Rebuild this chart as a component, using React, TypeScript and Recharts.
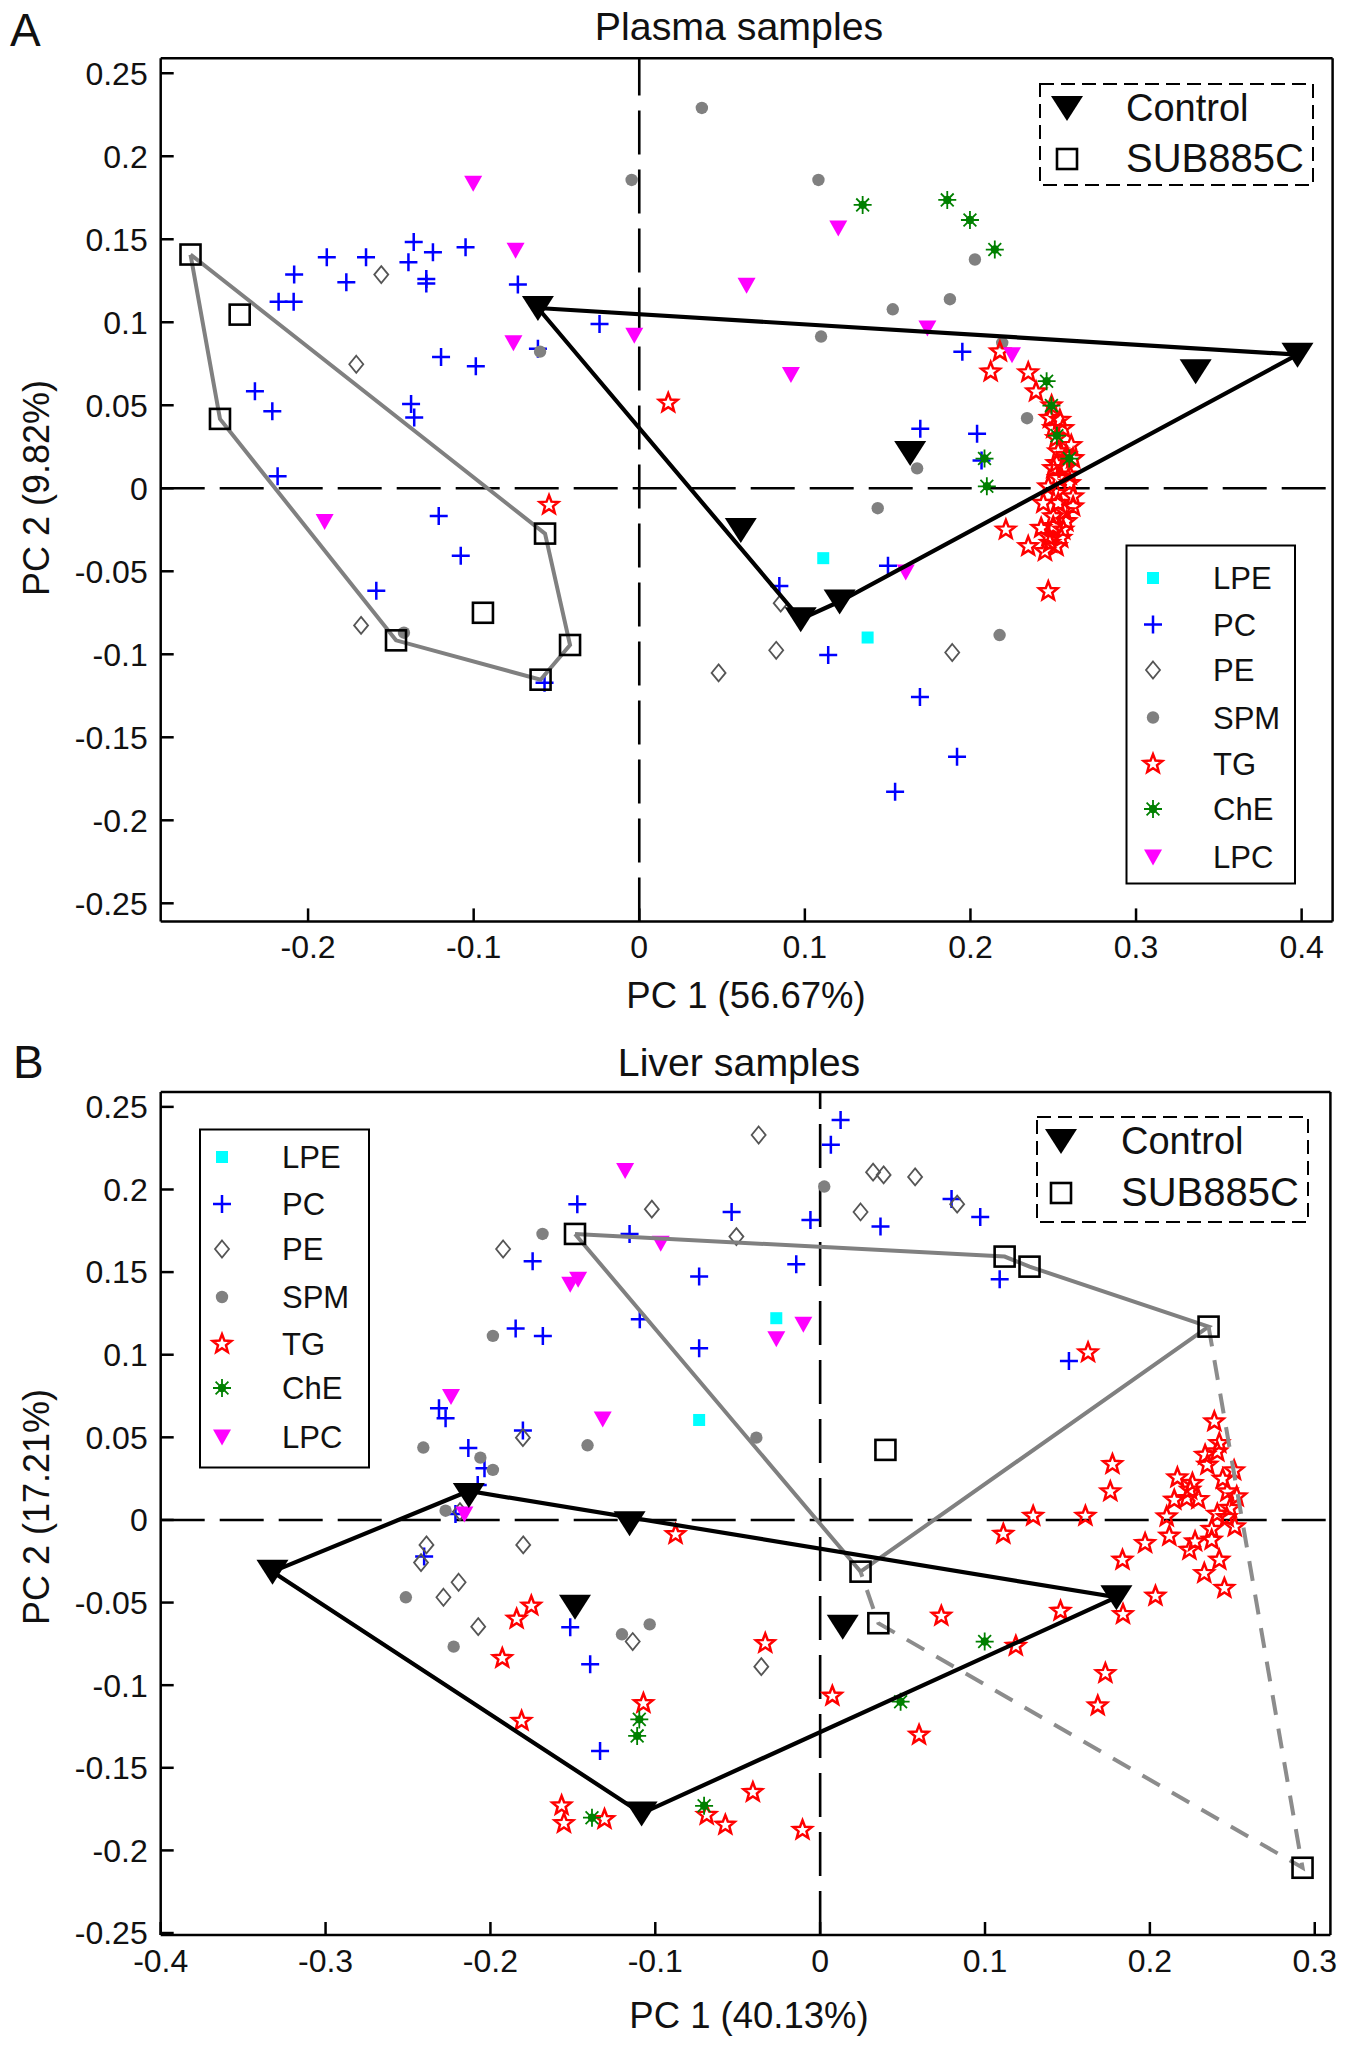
import { ScatterChart, Scatter, XAxis, YAxis, ReferenceLine } from 'recharts'

type Pt = [number, number]

// ---- Plasma (panel A) ----
const plasmaLPE: Pt[] = [[0.1111, -0.0421], [0.1379, -0.0899]]
const plasmaPC: Pt[] = [
  [-0.2184, 0.0072], [-0.2321, 0.0584], [-0.2216, 0.0464], [-0.2178, 0.1124], [-0.2087, 0.1124],
  [-0.2084, 0.1287], [-0.1887, 0.1392], [-0.1769, 0.1241], [-0.165, 0.1392], [-0.1394, 0.1361],
  [-0.1362, 0.1484], [-0.1246, 0.1422], [-0.1286, 0.1261], [-0.1286, 0.1233], [-0.1049, 0.1452],
  [-0.0733, 0.1227], [-0.024, 0.099], [-0.0612, 0.0841], [-0.1197, 0.0791], [-0.0987, 0.0735],
  [-0.1378, 0.0508], [-0.1359, 0.0426], [-0.1211, -0.0167], [-0.1078, -0.0406], [-0.1588, -0.0617],
  [-0.0572, -0.1172], [0.1951, 0.0823], [0.1697, 0.0359], [0.204, 0.0329], [0.2067, 0.0167],
  [0.1502, -0.0466], [0.0846, -0.0589], [0.1141, -0.1004], [0.1695, -0.1258], [0.1919, -0.1617],
  [0.1545, -0.1828],
]
const plasmaPE: Pt[] = [
  [-0.1558, 0.1287], [-0.1709, 0.0747], [-0.168, -0.0826], [0.0854, -0.0692], [0.0827, -0.0976],
  [0.0479, -0.1112], [0.189, -0.0989],
]
const plasmaSPM: Pt[] = [
  [-0.0046, 0.1857], [-0.0599, 0.0823], [0.0378, 0.2291], [0.1082, 0.1857], [0.2027, 0.1378],
  [0.1876, 0.1139], [0.1531, 0.1078], [0.1098, 0.0914], [0.2192, 0.0876], [0.2342, 0.0422],
  [0.1678, 0.012], [0.144, -0.012], [0.2176, -0.0884], [-0.1421, -0.087],
]
const plasmaTG: Pt[] = [
  [0.0175, 0.0514], [-0.0545, -0.0101], [0.2178, 0.0823], [0.2122, 0.0702], [0.2349, 0.0697],
  [0.2396, 0.0582], [0.249, 0.0498], [0.248, 0.0422], [0.254, 0.0411], [0.25, 0.0361],
  [0.256, 0.0361], [0.2518, 0.0301], [0.2609, 0.0259], [0.253, 0.0221], [0.2579, 0.0199],
  [0.262, 0.018], [0.252, 0.015], [0.257, 0.012], [0.25, 0.012], [0.26, 0.008],
  [0.253, 0.006], [0.247, 0.001], [0.26, 0.003], [0.252, -0.003], [0.262, -0.005],
  [0.244, -0.009], [0.253, -0.009], [0.262, -0.011], [0.257, -0.014], [0.25, -0.017],
  [0.2579, -0.02], [0.2427, -0.024], [0.25, -0.023], [0.256, -0.025], [0.2214, -0.025],
  [0.247, -0.029], [0.2548, -0.03], [0.248, -0.033], [0.2349, -0.035], [0.245, -0.038],
  [0.252, -0.035], [0.247, -0.0621],
]
const plasmaChE: Pt[] = [
  [0.1349, 0.1707], [0.186, 0.1737], [0.1997, 0.1616], [0.2147, 0.1438], [0.246, 0.0645],
  [0.2489, 0.0498], [0.2522, 0.0317], [0.2597, 0.0179], [0.2085, 0.0179], [0.2099, 0.0012],
]
const plasmaLPC: Pt[] = [
  [-0.1003, 0.1837], [-0.0747, 0.1434], [-0.076, 0.0876], [-0.003, 0.0922], [0.1202, 0.1568],
  [0.0648, 0.1223], [0.0916, 0.0685], [0.174, 0.0966], [0.2251, 0.0805], [-0.19, -0.02],
  [0.1609, -0.0505],
]
const plasmaControl: Pt[] = [
  [-0.0612, 0.1086], [0.3975, 0.0805], [0.336, 0.0705], [0.1636, 0.0213], [0.0613, -0.0251],
  [0.0975, -0.0789], [0.121, -0.0682],
]
const plasmaSub: Pt[] = [
  [-0.271, 0.1408], [-0.2413, 0.1046], [-0.2532, 0.0418], [-0.0569, -0.0273], [-0.0944, -0.075],
  [-0.1469, -0.0916], [-0.0418, -0.0944], [-0.0596, -0.1153],
]
const plasmaControlHull: Pt[] = [
  [-0.0612, 0.1086], [0.3975, 0.0805], [0.121, -0.0682], [0.0975, -0.0789], [-0.0612, 0.1086],
]
const plasmaSubHull: Pt[] = [
  [-0.271, 0.1408], [-0.0569, -0.0273], [-0.0418, -0.0944], [-0.0596, -0.1153], [-0.1469, -0.0916],
  [-0.2532, 0.0418], [-0.271, 0.1408],
]

// ---- Liver (panel B) ----
const liverLPE: Pt[] = [[-0.0266, 0.1221], [-0.0734, 0.0605]]
const liverPC: Pt[] = [
  [-0.1473, 0.1911], [-0.1156, 0.1731], [-0.1744, 0.1566], [-0.1847, 0.1158], [-0.1682, 0.1114],
  [-0.1094, 0.1215], [-0.2312, 0.0676], [-0.2272, 0.0615], [-0.1803, 0.0541], [-0.2134, 0.0436],
  [-0.2036, 0.0313], [-0.2077, 0.0212], [-0.2212, 0.0036], [-0.2402, -0.0222], [-0.1516, -0.065],
  [-0.1395, -0.0874], [-0.1335, -0.1398], [0.0124, 0.2421], [0.0065, 0.227], [-0.0537, 0.1864],
  [-0.0059, 0.1816], [-0.0145, 0.1548], [-0.0734, 0.1473], [-0.0734, 0.1039], [0.0366, 0.1776],
  [0.0797, 0.1943], [0.0971, 0.1834], [0.1089, 0.1457], [0.1509, 0.0962],
]
const liverPE: Pt[] = [
  [-0.1021, 0.1881], [-0.1923, 0.164], [-0.1803, 0.0498], [-0.2185, 0.005], [-0.2388, -0.0151],
  [-0.1801, -0.0151], [-0.2421, -0.0258], [-0.2193, -0.0377], [-0.2285, -0.0468], [-0.2074, -0.0646],
  [-0.1137, -0.0736], [-0.0373, 0.233], [0.0321, 0.2105], [0.0385, 0.2088], [0.0576, 0.2076],
  [0.0245, 0.1864], [0.0831, 0.1911], [-0.0508, 0.1715], [-0.0357, -0.0888],
]
const liverSPM: Pt[] = [
  [-0.1684, 0.1731], [-0.1985, 0.1114], [-0.2407, 0.0438], [-0.2061, 0.0377], [-0.1985, 0.0303],
  [-0.1411, 0.0452], [-0.2272, 0.0056], [-0.2513, -0.0468], [-0.2223, -0.0767], [-0.1202, -0.0692],
  [-0.1034, -0.0632], [0.0025, 0.2018], [-0.0387, 0.0498],
]
const liverTG: Pt[] = [
  [-0.0877, -0.0087], [-0.1752, -0.052], [-0.1841, -0.0599], [-0.1928, -0.0837], [-0.1811, -0.1217],
  [-0.1072, -0.111], [-0.1568, -0.1729], [-0.1554, -0.1836], [-0.1308, -0.1812], [-0.0333, -0.0747],
  [0.0074, -0.1065], [0.06, -0.1301], [-0.0408, -0.1648], [-0.0688, -0.1786], [-0.0575, -0.1846],
  [-0.0107, -0.1877], [0.0735, -0.0581], [0.1458, -0.0551], [0.1187, -0.0763], [0.1837, -0.0571],
  [0.173, -0.0928], [0.1684, -0.1124], [0.2034, -0.046], [0.1834, -0.0242], [0.1625, 0.1013],
  [0.1773, 0.0337], [0.176, 0.0172], [0.1111, -0.0085], [0.1292, 0.0024], [0.1609, 0.0024],
  [0.2391, 0.0595], [0.2421, 0.0464], [0.2335, 0.0393], [0.2409, 0.0413], [0.2349, 0.0333],
  [0.2511, 0.0299], [0.2167, 0.0256], [0.2442, 0.0248], [0.2258, 0.0222], [0.247, 0.0171],
  [0.2244, 0.0182], [0.2148, 0.0121], [0.2224, 0.0131], [0.2294, 0.0125], [0.2527, 0.0141],
  [0.2486, 0.0071], [0.2409, 0.0036], [0.2102, 0.002], [0.2466, 0.0016], [0.2515, -0.0041],
  [0.2375, -0.0056], [0.2118, -0.0097], [0.2274, -0.0131], [0.2375, -0.0121], [0.1971, -0.0141],
  [0.224, -0.0182], [0.2421, -0.0242], [0.233, -0.0323], [0.2452, -0.0413],
]
const liverChE: Pt[] = [
  [-0.1097, -0.1207], [-0.111, -0.1307], [-0.1384, -0.1802], [-0.0704, -0.173], [0.0488, -0.11],
  [0.0998, -0.0736],
]
const liverLPC: Pt[] = [
  [-0.1183, 0.2115], [-0.0967, 0.1675], [-0.1468, 0.1457], [-0.1516, 0.1427], [-0.2239, 0.0747],
  [-0.1319, 0.0611], [-0.2158, 0.0036], [-0.0102, 0.1184], [-0.0266, 0.1096],
]
const liverControl: Pt[] = [
  [-0.2131, 0.0151], [-0.1156, -0.002], [-0.3322, -0.0313], [-0.1487, -0.0525], [-0.1083, -0.1776],
  [0.0137, -0.0646], [0.1797, -0.0468],
]
const liverSub: Pt[] = [
  [-0.1487, 0.1731], [0.1119, 0.1594], [0.127, 0.1533], [0.2356, 0.117], [0.0396, 0.0424],
  [0.0245, -0.0313], [0.0353, -0.0625], [0.2926, -0.2105],
]
const liverControlHull: Pt[] = [
  [-0.3322, -0.0313], [-0.2131, 0.0175], [0.1797, -0.0468], [-0.1083, -0.1776], [-0.3322, -0.0313],
]
const liverSubHull: Pt[] = [
  [-0.1487, 0.1731], [0.1119, 0.1594], [0.127, 0.1533], [0.2356, 0.117], [0.0245, -0.0313],
  [-0.1487, 0.1731],
]
const liverSubDashed: Pt[] = [
  [0.2356, 0.117], [0.2926, -0.2105], [0.0353, -0.0625], [0.0245, -0.0313],
]

const yTicks = [-0.25, -0.2, -0.15, -0.1, -0.05, 0, 0.05, 0.1, 0.15, 0.2, 0.25]
const plasmaXTicks = [-0.2, -0.1, 0, 0.1, 0.2, 0.3, 0.4]
const liverXTicks = [-0.4, -0.3, -0.2, -0.1, 0, 0.1, 0.2, 0.3]

const lipidLegend: [Kind, string][] = [
  ['lpe', 'LPE'], ['pc', 'PC'], ['pe', 'PE'], ['spm', 'SPM'], ['tg', 'TG'], ['che', 'ChE'], ['lpc', 'LPC'],
]

type Kind = 'lpe' | 'pc' | 'pe' | 'spm' | 'tg' | 'che' | 'lpc' | 'control' | 'sub'

const FONT = '"Liberation Sans", Arial, sans-serif'
const INK = '#111'

function Marker({ kind, cx, cy }: { kind: Kind; cx: number; cy: number }) {
  switch (kind) {
    case 'lpe':
      return <rect x={cx - 6} y={cy - 6} width={12} height={12} fill="#00ffff" />
    case 'pc':
      return (
        <path
          d={`M${cx - 9} ${cy}H${cx + 9}M${cx} ${cy - 9}V${cy + 9}`}
          stroke="#0000ff"
          strokeWidth={2.5}
          fill="none"
        />
      )
    case 'pe':
      return (
        <path
          d={`M${cx} ${cy - 8.5}L${cx + 7} ${cy}L${cx} ${cy + 8.5}L${cx - 7} ${cy}Z`}
          stroke="#555"
          strokeWidth={1.8}
          fill="none"
        />
      )
    case 'spm':
      return <circle cx={cx} cy={cy} r={6.2} fill="#808080" />
    case 'tg': {
      let d = ''
      for (let i = 0; i < 10; i++) {
        const r = i % 2 === 0 ? 9.8 : 4.2
        const a = -Math.PI / 2 + (i * Math.PI) / 5
        d += `${i === 0 ? 'M' : 'L'}${cx + r * Math.cos(a)} ${cy + r * Math.sin(a)}`
      }
      return <path d={d + 'Z'} stroke="#ff0000" strokeWidth={2.5} fill="none" />
    }
    case 'che':
      return (
        <g stroke="#008000" strokeWidth={1.8}>
          <path d={`M${cx - 9} ${cy}H${cx + 9}M${cx} ${cy - 9}V${cy + 9}`} />
          <path d={`M${cx - 6.4} ${cy - 6.4}L${cx + 6.4} ${cy + 6.4}M${cx - 6.4} ${cy + 6.4}L${cx + 6.4} ${cy - 6.4}`} />
          <circle cx={cx} cy={cy} r={4.2} fill="#008000" stroke="none" />
        </g>
      )
    case 'lpc':
      return <path d={`M${cx - 9} ${cy - 7.5}H${cx + 9}L${cx} ${cy + 8.5}Z`} fill="#ff00ff" />
    case 'control':
      return <path d={`M${cx - 16} ${cy - 12}H${cx + 16}L${cx} ${cy + 13}Z`} fill="#000" />
    case 'sub':
      return <rect x={cx - 10} y={cy - 10} width={20} height={20} fill="none" stroke="#000" strokeWidth={2.6} />
  }
}

const toRows = (pts: Pt[]) => pts.map(([x, y]) => ({ x, y }))

function markers(name: string, pts: Pt[], kind: Kind) {
  return (
    <Scatter
      key={name}
      name={name}
      data={toRows(pts)}
      isAnimationActive={false}
      shape={(p: any) => <Marker kind={kind} cx={p.cx} cy={p.cy} />}
    />
  )
}

function hull(name: string, pts: Pt[], stroke: string, width: number, dash?: string) {
  return (
    <Scatter
      key={name}
      name={name}
      data={toRows(pts)}
      isAnimationActive={false}
      line={{ stroke, strokeWidth: width, strokeDasharray: dash }}
      shape={() => <g />}
    />
  )
}

function Panel(props: {
  top: number
  height: number
  margin: { top: number; right: number; bottom: number; left: number }
  xDomain: [number, number]
  yDomain: [number, number]
  xTicks: number[]
  children: any
}) {
  const { top, height, margin, xDomain, yDomain, xTicks, children } = props
  const tick = { fontSize: 32, fontFamily: FONT, fill: INK }
  return (
    <div style={{ position: 'absolute', left: 0, top }}>
      <ScatterChart width={1345} height={height} margin={margin}>
        <XAxis
          type="number"
          dataKey="x"
          domain={xDomain}
          ticks={xTicks}
          interval={0}
          height={1}
          tick={tick}
          tickSize={-13}
          tickMargin={27}
          stroke="#000"
          strokeWidth={2.5}
        />
        <YAxis
          type="number"
          dataKey="y"
          domain={yDomain}
          ticks={yTicks}
          interval={0}
          width={1}
          tick={tick}
          tickSize={-13}
          tickMargin={26}
          stroke="#000"
          strokeWidth={2.5}
        />
        <XAxis
          xAxisId="top"
          orientation="top"
          type="number"
          domain={xDomain}
          ticks={xTicks}
          interval={0}
          height={1}
          tick={false}
          tickSize={-13}
          stroke="#000"
          strokeWidth={2.5}
        />
        <YAxis
          yAxisId="right"
          orientation="right"
          type="number"
          domain={yDomain}
          ticks={yTicks}
          interval={0}
          width={1}
          tick={false}
          tickSize={-13}
          stroke="#000"
          strokeWidth={2.5}
        />
        <ReferenceLine x={0} stroke="#000" strokeWidth={2.6} strokeDasharray="44 15" />
        <ReferenceLine y={0} stroke="#000" strokeWidth={2.6} strokeDasharray="44 15" />
        {children}
      </ScatterChart>
    </div>
  )
}

function Txt({ x, y, size, anchor = 'start', rotate, children }: any) {
  return (
    <text
      x={x}
      y={y}
      fontSize={size}
      fontFamily={FONT}
      fill={INK}
      textAnchor={anchor}
      dominantBaseline="alphabetic"
      transform={rotate ? `rotate(${rotate} ${x} ${y})` : undefined}
    >
      {children}
    </text>
  )
}

function LipidLegend({ x, y, w, h, markX, textX, rows }: any) {
  return (
    <g>
      <rect x={x} y={y} width={w} height={h} fill="#fff" stroke="#000" strokeWidth={2} />
      {lipidLegend.map(([kind, label], i) => (
        <g key={label}>
          <Marker kind={kind} cx={markX} cy={rows[i]} />
          <Txt x={textX} y={rows[i] + 11} size={31}>{label}</Txt>
        </g>
      ))}
    </g>
  )
}

function GroupLegend({ x, y, w, h, markX, textX, row1, row2 }: any) {
  return (
    <g>
      <rect x={x} y={y} width={w} height={h} fill="#fff" stroke="#000" strokeWidth={2} strokeDasharray="14 7" />
      <Marker kind="control" cx={markX} cy={row1} />
      <Txt x={textX} y={row1 + 13} size={38}>Control</Txt>
      <Marker kind="sub" cx={markX} cy={row2} />
      <Txt x={textX} y={row2 + 13} size={40}>SUB885C</Txt>
    </g>
  )
}

export default function App() {
  return (
    <div style={{ position: 'absolute', left: 0, top: 0, width: 1345, height: 2052, background: '#fff', overflow: 'hidden' }}>
      <Panel
        top={0}
        height={1000}
        margin={{ top: 57.3, right: 11.4, bottom: 77.6, left: 159.7 }}
        xDomain={[-0.289, 0.4187]}
        yDomain={[-0.2609, 0.259]}
        xTicks={plasmaXTicks}
      >
        {markers('LPE', plasmaLPE, 'lpe')}
        {markers('PC', plasmaPC, 'pc')}
        {markers('PE', plasmaPE, 'pe')}
        {markers('SPM', plasmaSPM, 'spm')}
        {markers('TG', plasmaTG, 'tg')}
        {markers('ChE', plasmaChE, 'che')}
        {markers('LPC', plasmaLPC, 'lpc')}
        {hull('Control hull', plasmaControlHull, '#000', 4.2)}
        {hull('SUB885C hull', plasmaSubHull, '#808080', 4)}
        {markers('Control', plasmaControl, 'control')}
        {markers('SUB885C', plasmaSub, 'sub')}
      </Panel>
      <Panel
        top={1000}
        height={1052}
        margin={{ top: 91, right: 13.6, bottom: 116, left: 159.7 }}
        xDomain={[-0.4, 0.3095]}
        yDomain={[-0.2512, 0.259]}
        xTicks={liverXTicks}
      >
        {markers('LPE', liverLPE, 'lpe')}
        {markers('PC', liverPC, 'pc')}
        {markers('PE', liverPE, 'pe')}
        {markers('SPM', liverSPM, 'spm')}
        {markers('TG', liverTG, 'tg')}
        {markers('ChE', liverChE, 'che')}
        {markers('LPC', liverLPC, 'lpc')}
        {hull('SUB885C hull', liverSubHull, '#808080', 4)}
        {hull('SUB885C dashed', liverSubDashed, '#8c8c8c', 4, '20 14')}
        {hull('Control hull', liverControlHull, '#000', 4.2)}
        {markers('Control', liverControl, 'control')}
        {markers('SUB885C', liverSub, 'sub')}
      </Panel>
      <svg
        width={1345}
        height={2052}
        style={{ position: 'absolute', left: 0, top: 0, pointerEvents: 'none' }}
      >
        <Txt x={10} y={46} size={46}>A</Txt>
        <Txt x={739} y={40} size={39.3} anchor="middle">Plasma samples</Txt>
        <Txt x={746} y={1008} size={36.5} anchor="middle">PC 1 (56.67%)</Txt>
        <Txt x={49} y={488} size={36} anchor="middle" rotate={-90}>PC 2 (9.82%)</Txt>
        <GroupLegend x={1040} y={84} w={273} h={101} markX={1067} textX={1126} row1={108} row2={159} />
        <LipidLegend x={1126.5} y={545.5} w={168.5} h={338} markX={1153} textX={1213} rows={[578, 624.6, 670, 717.5, 764, 809, 857]} />

        <Txt x={13} y={1078} size={46}>B</Txt>
        <Txt x={739} y={1076} size={39.3} anchor="middle">Liver samples</Txt>
        <Txt x={749} y={2028} size={36.5} anchor="middle">PC 1 (40.13%)</Txt>
        <Txt x={49} y={1507} size={36} anchor="middle" rotate={-90}>PC 2 (17.21%)</Txt>
        <GroupLegend x={1037} y={1117} w={271} h={105} markX={1061} textX={1121} row1={1141} row2={1193} />
        <LipidLegend x={200} y={1129.5} w={169} h={338} markX={222} textX={282} rows={[1157, 1204, 1249, 1297, 1344, 1388, 1437]} />
      </svg>
    </div>
  )
}
